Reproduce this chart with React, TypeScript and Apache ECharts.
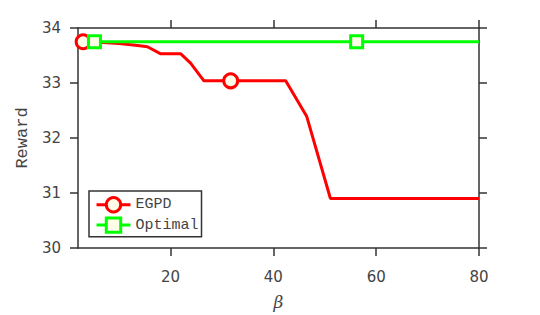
import React, { useEffect, useRef } from "react";
import * as echarts from "echarts";

const egpdBeta = [3, 6, 10, 13.2, 15.5, 18.1, 22, 23.9, 26.5, 31.7, 42.4, 46.5, 51.1, 80];
const egpdReward = [33.75, 33.74, 33.72, 33.685, 33.66, 33.53, 33.53, 33.36, 33.04, 33.04, 33.04, 32.39, 30.9, 30.9];
const egpdMarkers = [3, 31.7];

const optBeta = [5.2, 56.2, 80];
const optReward = [33.75, 33.75, 33.75];
const optMarkers = [5.2, 56.2];

const xTicks = [20, 40, 60, 80];
const yTicks = [30, 31, 32, 33, 34];

const FILL = "#fffde8";
const AX = "#333333";
const TXT = "#444444";

export default function App() {
  const ref = useRef<HTMLDivElement>(null);
  useEffect(() => {
    const chart = echarts.init(ref.current!, null, { renderer: "svg" });
    const mk = (xs: number[], ys: number[], marks: number[]) =>
      xs.map((x, i) =>
        marks.includes(x) ? { value: [x, ys[i]] } : { value: [x, ys[i]], symbol: "none" }
      );
    const axisLine = { show: true, lineStyle: { color: AX, width: 1.5 } };
    const tick = { show: true, inside: false, length: 8, lineStyle: { color: AX, width: 1.5 } };
    chart.setOption({
      animation: false,
      grid: { left: 78, right: 61, top: 28, bottom: 67, containLabel: false },
      legend: {
        orient: "vertical",
        left: 89,
        top: 191,
        width: 110,
        backgroundColor: "#ffffff",
        borderColor: AX,
        borderWidth: 1.5,
        borderRadius: 0,
        padding: [5, 3, 3, 6],
        itemWidth: 34,
        itemHeight: 18,
        itemGap: 3,
        lineStyle: { width: 3 },
        itemStyle: { borderWidth: 3 },
        textStyle: { fontFamily: "Liberation Mono", fontSize: 15, color: TXT },
        data: ["EGPD", "Optimal"],
      },
      xAxis: [
        {
          type: "value",
          min: 2,
          max: 80,
          name: "β",
          nameLocation: "middle",
          nameGap: 45,
          nameTextStyle: { fontFamily: "DejaVu Serif", fontStyle: "italic", fontSize: 17, color: TXT },
          axisLine,
          axisTick: { ...tick, customValues: xTicks },
          axisLabel: {
            customValues: xTicks,
            margin: 21,
            fontFamily: "DejaVu Sans",
            fontSize: 15,
            color: TXT,
          },
          splitLine: { show: false },
        },
        {
          type: "value",
          position: "top",
          min: 2,
          max: 80,
          axisLine,
          axisTick: { ...tick, customValues: xTicks },
          axisLabel: { show: false, customValues: xTicks },
          splitLine: { show: false },
        },
      ],
      yAxis: [
        {
          type: "value",
          min: 30,
          max: 34,
          interval: 1,
          name: "Reward",
          nameLocation: "middle",
          nameRotate: 90,
          nameGap: 40,
          nameTextStyle: { fontFamily: "Liberation Mono", fontSize: 17, color: TXT },
          axisLine,
          axisTick: tick,
          axisLabel: {
            margin: 17,
            fontFamily: "DejaVu Sans",
            fontSize: 15,
            color: TXT,
            formatter: (v: number) => (yTicks.includes(v) ? String(v) : ""),
          },
          splitLine: { show: false },
        },
        {
          type: "value",
          position: "right",
          min: 30,
          max: 34,
          interval: 1,
          axisLine,
          axisTick: tick,
          axisLabel: { show: false },
          splitLine: { show: false },
        },
      ],
      series: [
        {
          name: "EGPD",
          type: "line",
          data: mk(egpdBeta, egpdReward, egpdMarkers),
          symbol: "circle",
          symbolSize: 14,
          showAllSymbol: true,
          lineStyle: { color: "#ff0000", width: 3 },
          itemStyle: { color: FILL, borderColor: "#ff0000", borderWidth: 3 },
          z: 2,
        },
        {
          name: "Optimal",
          type: "line",
          data: mk(optBeta, optReward, optMarkers),
          symbol: "rect",
          symbolSize: 12,
          showAllSymbol: true,
          lineStyle: { color: "#00ff00", width: 3 },
          itemStyle: { color: FILL, borderColor: "#00ff00", borderWidth: 3 },
          z: 3,
        },
      ],
    });
    return () => chart.dispose();
  }, []);
  return <div ref={ref} style={{ width: 540, height: 315, position: "absolute", left: 0, top: 0 }} />;
}
